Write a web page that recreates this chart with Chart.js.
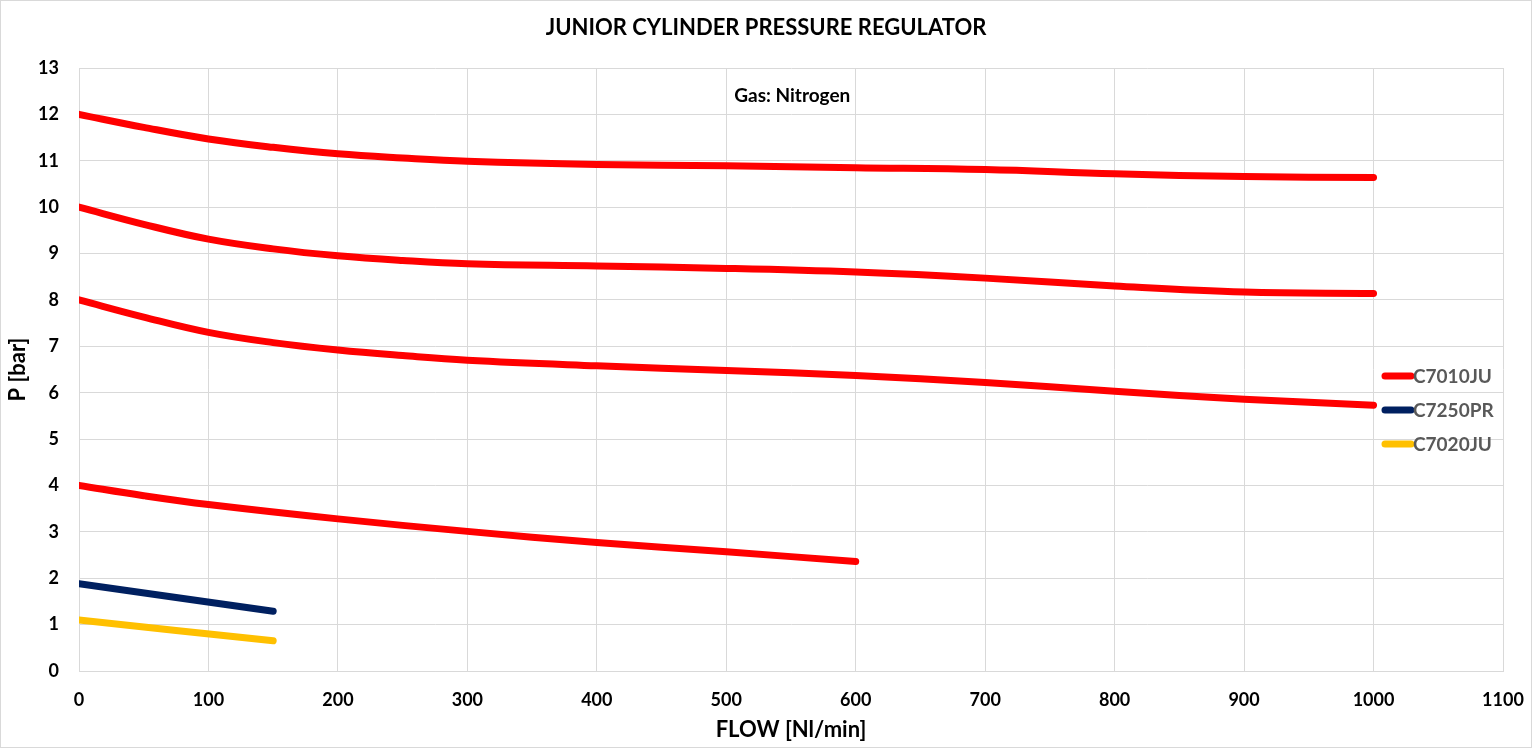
<!DOCTYPE html>
<html>
<head>
<meta charset="utf-8">
<script src="https://cdn.jsdelivr.net/npm/chart.js@4/dist/chart.umd.min.js"></script>
<style>
  html, body { margin: 0; padding: 0; background: #fff; }
  #wrap { width: 1532px; height: 748px; box-sizing: border-box; border: 1px solid #d9d9d9; position: relative; }
  canvas { display: block; }
</style>
</head>
<body>
<div id="wrap"><canvas id="chart" width="1530" height="746"></canvas></div>
<script>
// flow values (Nl/min) and pressures (bar)
const flowLong = [0, 50, 100, 150, 200, 250, 300, 400, 500, 600, 700, 800, 900, 1000];
const p12 = [12.0, 11.72, 11.47, 11.29, 11.15, 11.06, 10.99, 10.92, 10.89, 10.85, 10.81, 10.72, 10.66, 10.64];
const p10 = [10.0, 9.63, 9.31, 9.10, 8.95, 8.85, 8.78, 8.73, 8.68, 8.60, 8.47, 8.30, 8.17, 8.14];
const p8  = [8.0, 7.63, 7.30, 7.08, 6.92, 6.80, 6.70, 6.58, 6.48, 6.37, 6.22, 6.03, 5.86, 5.73];

const flowMid = [0, 50, 100, 200, 300, 400, 500, 600];
const p4 = [4.0, 3.78, 3.59, 3.28, 3.01, 2.77, 2.57, 2.36];

const flowShort = [0, 150];
const pC7250PR = [1.88, 1.29];
const pC7020JU = [1.10, 0.65];

const xTicks = [0, 100, 200, 300, 400, 500, 600, 700, 800, 900, 1000, 1100];
const yTicks = [0, 1, 2, 3, 4, 5, 6, 7, 8, 9, 10, 11, 12, 13];

const RED = '#ff0000', NAVY = '#002060', YELLOW = '#ffc000';
const FONT = 'Lato, "Open Sans", sans-serif';

function pts(xs, ys) {
    return xs.map((x, i) => ({ x: x, y: ys[i] }));
}

function lineSet(label, xs, ys, color, inLegend) {
    return {
        label: label,
        data: pts(xs, ys),
        borderColor: color,
        backgroundColor: color,
        borderWidth: 7,
        borderCapStyle: 'round',
        borderJoinStyle: 'round',
        pointRadius: 0,
        showLine: true,
        tension: 0.4,
        inLegend: inLegend
    };
}

const datasets = [
    lineSet('C7010JU', flowLong, p12, RED, true),
    lineSet('C7010JU', flowLong, p10, RED, false),
    lineSet('C7010JU', flowLong, p8, RED, false),
    lineSet('C7010JU', flowMid, p4, RED, false),
    lineSet('C7250PR', flowShort, pC7250PR, NAVY, true),
    lineSet('C7020JU', flowShort, pC7020JU, YELLOW, true)
];

// title, axis titles, note and legend drawn by hand
const extras = {
    id: 'extras',
    afterDraw(chart) {
        const ctx = chart.ctx;
        const area = chart.chartArea;
        const xs = chart.scales.x, ys = chart.scales.y;
        ctx.save();
        ctx.fillStyle = '#000';
        ctx.textBaseline = 'middle';
        ctx.textAlign = 'center';
        ctx.font = 'bold 22px ' + FONT;
        ctx.fillText('JUNIOR CYLINDER PRESSURE REGULATOR', 765, 27);

        ctx.fillText('FLOW [Nl/min]', (area.left + area.right) / 2, 729);
        ctx.save();
        ctx.translate(17, (area.top + area.bottom) / 2);
        ctx.rotate(-Math.PI / 2);
        ctx.fillText('P [bar]', 0, 0);
        ctx.restore();

        ctx.font = 'bold 19px ' + FONT;
        ctx.fillText('Gas: Nitrogen', xs.getPixelForValue(551), ys.getPixelForValue(12.39));

        // legend inside the plot, right side
        ctx.font = 'bold 19px ' + FONT;
        ctx.textAlign = 'left';
        let y = 375;
        chart.data.datasets.forEach(ds => {
            if (!ds.inLegend) return;
            ctx.strokeStyle = ds.borderColor;
            ctx.lineWidth = 7;
            ctx.lineCap = 'round';
            ctx.beginPath();
            ctx.moveTo(1384, y);
            ctx.lineTo(1410, y);
            ctx.stroke();
            ctx.fillStyle = '#595959';
            ctx.fillText(ds.label, 1412, y + 1);
            y += 34;
        });
        ctx.restore();
    }
};

new Chart(document.getElementById('chart'), {
    type: 'scatter',
    data: { datasets: datasets },
    options: {
        responsive: false,
        animation: false,
        layout: { padding: { top: 67, right: 28, left: 0, bottom: 0 } },
        plugins: {
            legend: { display: false },
            title: { display: false },
            tooltip: { enabled: false }
        },
        scales: {
            x: {
                type: 'linear',
                min: 0,
                max: 1100,
                afterBuildTicks: s => { s.ticks = xTicks.map(v => ({ value: v })); },
                afterFit: s => { s.height = 76; s.paddingRight = 0; s.paddingLeft = 0; },
                grid: { color: '#d9d9d9', lineWidth: 1, drawTicks: false },
                border: { color: '#d9d9d9' },
                ticks: {
                    color: '#000',
                    font: { family: FONT, size: 18, weight: 'bold' },
                    padding: 18,
                    callback: v => String(v)
                }
            },
            y: {
                type: 'linear',
                min: 0,
                max: 13,
                afterBuildTicks: s => { s.ticks = yTicks.map(v => ({ value: v })); },
                afterFit: s => { s.width = 78; s.paddingTop = 0; s.paddingBottom = 0; },
                grid: { color: '#d9d9d9', lineWidth: 1, drawTicks: false },
                border: { color: '#d9d9d9' },
                ticks: { color: '#000', font: { family: FONT, size: 18, weight: 'bold' }, padding: 20 }
            }
        }
    },
    plugins: [extras]
});
</script>
</body>
</html>
